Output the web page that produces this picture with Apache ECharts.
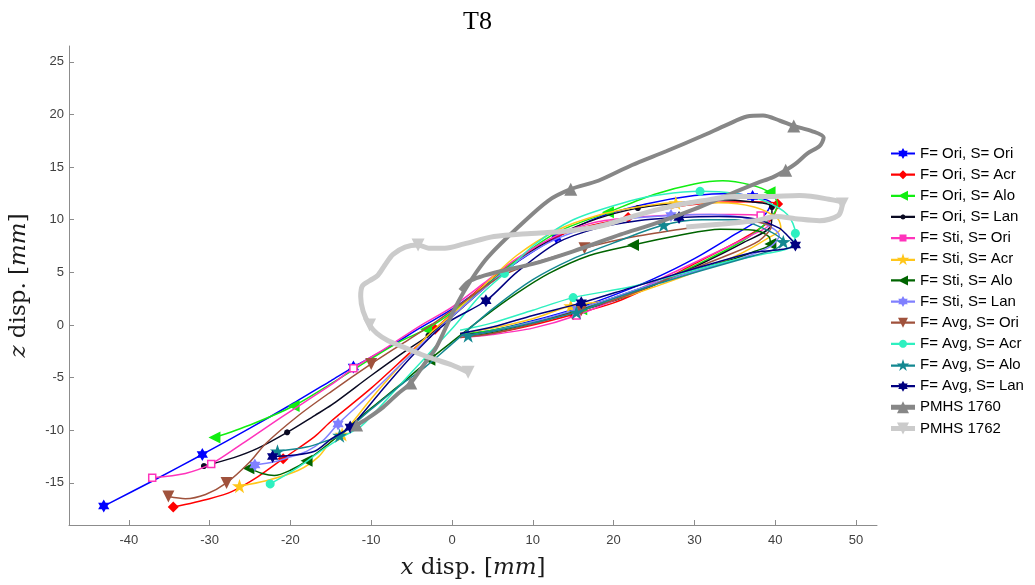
<!DOCTYPE html>
<html><head><meta charset="utf-8">
<script src="https://cdn.jsdelivr.net/npm/echarts@6/dist/echarts.min.js"></script>
<style>html,body{margin:0;padding:0;background:#fff}#c{width:1035px;height:585px}</style>
</head><body><div id="c"></div>
<script>
// ---- tick labels ----
const xTicks = [-40,-30,-20,-10,0,10,20,30,40,50];
const yTicks = [-15,-10,-5,0,5,10,15,20,25];

// ---- series names ----
const names = ['F= Ori, S= Ori','F= Ori, S= Acr','F= Ori, S= Alo','F= Ori, S= Lan',
  'F= Sti, S= Ori','F= Sti, S= Acr','F= Sti, S= Alo','F= Sti, S= Lan',
  'F= Avg, S= Ori','F= Avg, S= Acr','F= Avg, S= Alo','F= Avg, S= Lan',
  'PMHS 1760','PMHS 1762'];

// ---- trajectories [x disp, z disp] (mm) and marker sample indices ----
const oriOri = [[-43.1,-17.2],[-37,-14.8],[-30.9,-12.3],[-25,-9.8],[-20,-7.6],[-15,-5.3],[-12.2,-4.0],[-8,-2.2],[-4,-0.3],[0,1.5],[4.2,3.8],[8.5,6.2],[12.9,8.3],[18,10.2],[24,11.5],[30,12.3],[34.5,12.5],[37.2,12.2],[39.5,11.6],[38.5,10.3],[35,8.6],[30,6.3],[25,4.4],[20.9,3.1],[15.5,1.6],[10,0.4],[5,-0.5],[1,-0.9]];
const oriOriMk = [0,2,6,12,17,24];
const oriAcr = [[-34.5,-17.3],[-30,-16.5],[-27.2,-15.8],[-24,-14.4],[-20.9,-12.7],[-17,-10.6],[-14.9,-9.1],[-10,-6],[-6,-3.2],[-2.1,-0.4],[1,1.8],[5,4.5],[10,7.2],[15,9],[21.8,10.2],[27,11.1],[32,11.6],[37,11.7],[40.3,11.5],[39.5,10],[36,8.2],[30,5.8],[25,3.8],[20,2.1],[15,1],[10,0],[5,-0.8],[1,-1.1]];
const oriAcrMk = [0,4,9,14,18,24];
const oriAlo = [[-29.4,-10.7],[-25,-9.5],[-19.6,-7.7],[-15,-5.6],[-10,-3.2],[-6.5,-1.6],[-3.2,-0.4],[0,1.2],[4,3.6],[8,6.2],[13,8.8],[19.3,10.7],[25,12.4],[30,13.4],[33.5,13.7],[37,13.3],[39.3,12.6],[40.3,11.5],[39,9.8],[36,8],[31,6],[26,4.2],[21,2.6],[16,1.5],[10,0.3],[5,-0.5],[1,-0.9]];
const oriAloMk = [0,2,6,11,16,23];
const oriLan = [[-30.7,-13.4],[-27,-12.6],[-24,-11.7],[-20.4,-10.2],[-17,-8.6],[-14.9,-7.6],[-10,-4.8],[-6,-2.6],[-2.9,-1.0],[0,0.8],[4,3.5],[8,6],[13,8.5],[18,10.1],[23,11.1],[28,11.6],[33,11.9],[37,11.7],[39.6,11.2],[39.5,9.5],[36,7.8],[30,5.5],[25,3.8],[20,2.3],[15,1.2],[10,0.2],[5,-0.6],[1,-1.0]];
const oriLanMk = [0,3,8,14,18,24];
const stiOri = [[-37.1,-14.5],[-33,-14.1],[-29.8,-13.2],[-26,-11.3],[-21,-8.7],[-15,-5.7],[-12.2,-4.1],[-8,-2.1],[-4,-0.1],[0,1.7],[4,4],[8,6.3],[13,8.5],[18,9.8],[24,10.3],[30,10.5],[35,10.5],[38.2,10.4],[39.3,9.6],[37,8.5],[33,7],[28,5.2],[22,3],[15.4,0.9],[10,-0.3],[5,-0.9],[1,-1.2]];
const stiOriMk = [0,2,6,17,23];
const stiAcr = [[-26.3,-15.3],[-23,-14.8],[-19,-13.8],[-16.5,-12.5],[-14.9,-11],[-13.6,-10.4],[-10,-7],[-6,-3.5],[-3,-1],[0,1],[4,3.8],[8,6.6],[13,9],[18,10.4],[23,11.2],[27.7,11.6],[33,11.6],[37.4,11.2],[40.3,10.1],[40.7,9.2],[39,8.2],[35,6.5],[30,5],[25,3.6],[20,2.4],[14.7,1.8],[10,0.6],[5,-0.3],[1,-0.8]];
const stiAcrMk = [0,5,15,25];
const stiAlo = [[-25.2,-13.6],[-23.5,-14.1],[-22,-14.3],[-20,-13.8],[-18,-12.9],[-14,-10.5],[-10,-7.9],[-6,-5.4],[-2.8,-3.3],[0,-1.6],[4,0.8],[8,3],[12,4.9],[17,6.6],[22.4,7.6],[28,8.5],[33.2,9.1],[37.4,9.0],[39.2,8.4],[39.4,7.7],[37.5,7.0],[35,6.3],[30,5.2],[25,3.9],[20,2.6],[15,1.3],[10,0.2],[5,-0.7],[1,-1.1]];
const stiAloMk = [0,4,8,14,19];
const stiLan = [[-24.4,-13.3],[-22,-13],[-20.7,-12.7],[-18,-12],[-16,-11],[-14.1,-9.4],[-10,-6.5],[-6,-3.5],[-3,-1.3],[0,0.8],[4,3.5],[8,6],[13,8.2],[18,9.5],[22,10.1],[27.1,10.4],[32,10.5],[36,10.2],[39,9.5],[40.5,8.5],[39.5,7.5],[36,6.4],[31,5.3],[26,4.2],[20,2.6],[15.5,1.5],[10,0.3],[5,-0.6],[1,-1.1]];
const stiLanMk = [0,5,15,25];
const avgOri = [[-35.1,-16.3],[-33,-16.5],[-30.5,-16.1],[-27.9,-15.0],[-25,-13],[-23.1,-11.3],[-19,-8.6],[-14.9,-6.3],[-10,-3.7],[-6,-1.7],[-2,0.3],[2,2.5],[6,4.6],[10.6,6.0],[16.4,7.3],[22,8.3],[28.3,9.1],[33,9.6],[37,9.8],[39.5,9.3],[38,8],[34,6.6],[28,4.8],[22,2.9],[16,1.4],[10,0.1],[5,-0.8],[1,-1.2]];
const avgOriMk = [0,3,8,14,24];
const avgAcr = [[-22.5,-15.1],[-19,-13.5],[-16.1,-11.9],[-13.5,-10.6],[-11.2,-9.6],[-8,-7],[-5,-4.5],[-2,-2],[0.3,-0.1],[3.5,2.8],[6.5,4.9],[10,7.5],[15,10],[22.1,11.8],[26,12.4],[30.7,12.7],[35,12.5],[38.6,11.8],[41.5,10.5],[42.5,8.7],[41.9,7.4],[39,6.8],[34,6],[28,4.8],[22,3.6],[15,2.6],[10,1.4],[5,0.2],[1,-0.5]];
const avgAcrMk = [0,10,15,19,25];
const avgAlo = [[-21.6,-12.0],[-18,-11.6],[-15.5,-11],[-13.9,-10.5],[-10,-8],[-6,-5.5],[-3.8,-4.3],[0,-1.8],[5,1.5],[10,4.3],[15,6.3],[20,7.8],[26.2,9.5],[31,10],[35,10],[38.2,9.3],[41,7.9],[40,7.2],[36,6.3],[31,5.2],[25,3.8],[20,2.5],[15.4,1.2],[10,0.2],[5,-0.6],[2,-1.0]];
const avgAloMk = [0,3,12,16,22,25];
const avgLan = [[-22.2,-12.5],[-20,-12.4],[-17,-12],[-14.9,-10.8],[-12.6,-9.7],[-9,-6.5],[-5,-3],[-1,0],[4.2,2.3],[8,5],[13,7.8],[18,9.2],[23,9.9],[28.1,10.2],[33,10.3],[37.4,10.1],[40.5,9.2],[41.5,8.5],[42.5,7.6],[41,7.2],[37.4,6.9],[33,6.0],[28,4.9],[22,3.5],[16,2.1],[10,0.9],[5,-0.2],[1,-0.8]];
const avgLanMk = [0,4,8,13,18,24];
const pmhs1760 = [[-11.8,-9.5],[-10.5,-8.9],[-8.5,-7.8],[-6.8,-6.6],[-5.1,-5.5],[-3.5,-3.8],[-2,-2.2],[-0.8,-0.3],[0.3,1.5],[1.5,3.2],[3,5],[4.5,6.5],[8.2,9.3],[11.9,11.8],[14.7,12.9],[18.1,13.7],[22.3,15.2],[26.5,16.5],[30.8,17.9],[34,19],[36.5,19.8],[38.5,19.9],[40.6,19.4],[42.3,18.9],[44.6,18.4],[46,17.8],[45.5,17],[44,16.3],[42.5,15.3],[41.3,14.7],[39.6,14],[37.8,13.5],[34,12.3],[30,11],[25,9.6],[20.9,8.6],[15,7],[10,5.8],[6,5.1],[3.6,4.6],[2,4.1],[1,3.3]];
const pmhs1760Mk = [0,4,14,23,29];
const pmhs1762 = [[2,-4.5],[0,-3.8],[-2,-3.3],[-3.8,-2.8],[-6,-2.1],[-7.9,-1.5],[-9.3,-0.8],[-10.2,0],[-11,1.3],[-11.3,2.7],[-11.1,3.7],[-10.2,4.2],[-9.2,4.7],[-8.3,5.7],[-7.3,6.7],[-5.8,7.4],[-4.2,7.6],[-2.9,7.3],[-0.9,7.3],[1.5,7.7],[5.2,8.4],[9.8,8.7],[14,8.9],[18.4,9.4],[22.3,10.3],[26.7,11.2],[31,11.8],[35,12.2],[39,12.2],[43,12.3],[46.2,12.0],[48.3,11.5],[47.8,10.4],[45.5,9.9],[42.5,10.1],[40.2,10.3],[37.5,9.9],[33.5,9.6],[29,9.3]];
const pmhs1762Mk = [0,7,16,31];

// ---- marker shapes (polygons in a 10x10 box, clockwise on screen) ----
const circ = []; for (let k = 0; k < 20; k++) { const t = k / 20 * Math.PI * 2; circ.push([5 + 5 * Math.cos(t), 5 + 5 * Math.sin(t)]); }
const SHAPES = {
  hex: [[5,0],[6.443,2.5],[9.33,2.5],[7.887,5],[9.33,7.5],[6.443,7.5],[5,10],[3.557,7.5],[0.67,7.5],[2.113,5],[0.67,2.5],[3.557,2.5]],
  pent: [[5,0],[6.12,3.45],[9.76,3.455],[6.82,5.59],[7.94,9.05],[5,6.91],[2.06,9.05],[3.18,5.59],[0.24,3.455],[3.88,3.45]],
  ltri: [[10,0],[10,10],[0,5]],
  dtri: [[0,0],[10,0],[5,10]],
  utri: [[5,0],[10,10],[0,10]],
  diamond: [[5,0],[10,5],[5,10],[0,5]],
  rect: [[0,0],[10,0],[10,10],[0,10]],
  circle: circ
};
function shapePath(poly) { return 'path://M' + poly.map(p => p[0].toFixed(3) + ',' + p[1].toFixed(3)).join('L') + 'Z'; }
function legendIcon(poly, size, lw) {
  const W = 24, cy = 7, cx = 12, s = size / 10;
  let d = 'M0,' + (cy - lw / 2) + 'L' + W + ',' + (cy - lw / 2) + 'L' + W + ',' + (cy + lw / 2) + 'L0,' + (cy + lw / 2) + 'Z';
  d += 'M' + poly.map(p => (cx - size / 2 + p[0] * s).toFixed(2) + ',' + (cy - size / 2 + p[1] * s).toFixed(2)).join('L') + 'Z';
  return 'path://' + d;
}

function build(i, pts, mk, color, shape, size, width, hollow) {
  const set = new Set(mk);
  return {
    type: 'line', name: names[i], smooth: 0.3,
    symbol: shapePath(SHAPES[shape]), symbolSize: size, symbolKeepAspect: true,
    showSymbol: true, showAllSymbol: true,
    lineStyle: {color: color, width: width},
    itemStyle: hollow ? {color: '#ffffff', borderColor: color, borderWidth: 1.5} : {color: color, borderWidth: 0},
    emphasis: {disabled: true},
    data: pts.map((p, k) => set.has(k) ? {value: p} : {value: p, symbol: 'none'}),
    z: 2 + i * 0.01
  };
}

const styles = [
  ['#0000ff','hex',13,1.5,11,2.2],
  ['#ff0000','diamond',11,1.5,9,2.2],
  ['#11ee11','ltri',12,1.5,10,2.2],
  ['#0a0a22','circle',6,1.5,5,2.2],
  ['#ff33bb','rect',7,1.5,7,2.2],
  ['#ffc61a','pent',15,1.5,13,2.2],
  ['#006400','ltri',12,1.5,10,2.2],
  ['#8080ff','hex',13,1.5,11,2.2],
  ['#a0523c','dtri',12,1.5,10,2.2],
  ['#2ef0c0','circle',9,1.5,8,2.2],
  ['#138891','pent',15,1.5,13,2.2],
  ['#000080','hex',13,1.5,11,2.2],
  ['#878787','utri',13,4,12,5],
  ['#cbcbcb','dtri',13,5,12,5]
];
const allPts = [oriOri, oriAcr, oriAlo, oriLan, stiOri, stiAcr, stiAlo, stiLan, avgOri, avgAcr, avgAlo, avgLan, pmhs1760, pmhs1762];
const allMk = [oriOriMk, oriAcrMk, oriAloMk, oriLanMk, stiOriMk, stiAcrMk, stiAloMk, stiLanMk, avgOriMk, avgAcrMk, avgAloMk, avgLanMk, pmhs1760Mk, pmhs1762Mk];

const series = allPts.map((pts, i) => build(i, pts, allMk[i], styles[i][0], styles[i][1], styles[i][2], styles[i][3], i === 4));
const legendData = names.map((n, i) => ({
  name: n,
  icon: legendIcon(SHAPES[styles[i][1]], styles[i][4], styles[i][5]),
  itemStyle: {color: styles[i][0], borderWidth: 0}
}));

const serifName = {fontFamily: 'DejaVu Serif', fontSize: 23, color: '#1a1a1a',
  rich: {i: {fontFamily: 'DejaVu Serif', fontStyle: 'italic', fontSize: 23, color: '#1a1a1a'}}};

const chart = echarts.init(document.getElementById('c'), null, {renderer: 'canvas'});
chart.setOption({
  animation: false,
  backgroundColor: '#ffffff',
  graphic: [{type: 'text', left: 463, top: 9, style: {text: 'T8', font: '26px "Liberation Serif"', fill: '#000'}}],
  grid: {left: 67, top: 46, width: 810, height: 486},
  xAxis: {
    type: 'value', min: -47.4, max: 52.6,
    name: '{i|x} disp. [{i|mm}]', nameLocation: 'middle', nameGap: 32,
    nameTextStyle: serifName,
    axisLine: {show: true, onZero: false, lineStyle: {color: '#8c8c8c', width: 1}},
    axisTick: {show: true, inside: true, length: 5, lineStyle: {color: '#8c8c8c'}, customValues: xTicks},
    axisLabel: {fontFamily: 'Liberation Sans', fontSize: 13, color: '#404040', margin: 9, customValues: xTicks},
    splitLine: {show: false}
  },
  yAxis: {
    type: 'value', min: -19, max: 26.5,
    name: '{i|z} disp. [{i|mm}]', nameLocation: 'middle', nameGap: 38, nameRotate: 90,
    nameTextStyle: serifName,
    axisLine: {show: true, onZero: false, lineStyle: {color: '#8c8c8c', width: 1}},
    axisTick: {show: true, inside: true, length: 5, lineStyle: {color: '#8c8c8c'}, customValues: yTicks},
    axisLabel: {fontFamily: 'Liberation Sans', fontSize: 13, color: '#404040', margin: 5, customValues: yTicks},
    splitLine: {show: false}
  },
  legend: {
    orient: 'vertical', left: 886, top: 141, itemGap: 6.15, itemWidth: 24, itemHeight: 14,
    symbolKeepAspect: true,
    textStyle: {fontFamily: 'Liberation Sans', fontSize: 15, lineHeight: 15, color: '#000'},
    data: legendData, selectedMode: false
  },
  series: series
});
</script></body></html>
